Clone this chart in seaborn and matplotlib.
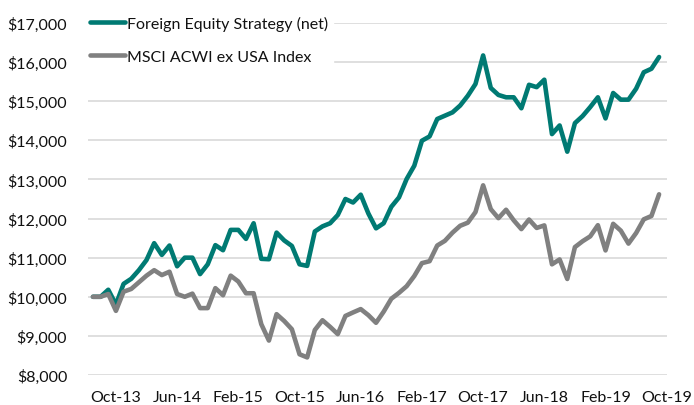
import numpy as np
import pandas as pd
import seaborn as sns
import matplotlib.pyplot as plt

# growth of $10,000, monthly
strategy = [10000, 10000, 10180, 9800, 10330, 10460, 10680, 10940, 11370, 11070,
            11310, 10780, 11000, 11000, 10580, 10830, 11320, 11190, 11710, 11710,
            11480, 11880, 10970, 10960, 11640, 11440, 11300, 10830, 10790, 11670,
            11800, 11880, 12090, 12500, 12410, 12610, 12130, 11750, 11880, 12300,
            12540, 13010, 13350, 13990, 14100, 14545, 14630, 14715, 14890, 15140,
            15440, 16170, 15340, 15160, 15100, 15100, 14820, 15420, 15360, 15550,
            14160, 14380, 13710, 14440, 14620, 14850, 15100, 14560, 15210, 15040,
            15040, 15320, 15740, 15830, 16130]
index = [10000, 10000, 10070, 9640, 10130, 10200, 10370, 10540, 10680, 10555,
         10640, 10070, 10000, 10080, 9710, 9710, 10220, 10040, 10540, 10390,
         10090, 10090, 9300, 8880, 9555, 9380, 9170, 8530, 8450, 9150,
         9400, 9230, 9045, 9510, 9600, 9685, 9530, 9335, 9620, 9950,
         10100, 10270, 10530, 10860, 10910, 11310, 11430, 11640, 11815, 11895,
         12165, 12850, 12240, 12010, 12225, 11955, 11730, 11975, 11760, 11825,
         10830, 10955, 10455, 11270, 11420, 11545, 11830, 11185, 11865, 11690,
         11360, 11630, 11980, 12065, 12620]
tick_labels = ["Oct-13", "Jun-14", "Feb-15", "Oct-15", "Jun-16",
               "Feb-17", "Oct-17", "Jun-18", "Feb-19", "Oct-19"]
series_names = ["Foreign Equity Strategy (net)", "MSCI ACWI ex USA Index"]
colors = ["#007A73", "#808080"]

df = pd.DataFrame({
    "month": np.tile(np.arange(len(strategy)), 2),
    "value": strategy + index,
    "series": np.repeat(series_names, len(strategy)),
})

sns.set_theme(style="whitegrid")
plt.rcParams["font.family"] = ["Lato", "DejaVu Sans"]

fig = plt.figure(figsize=(6.94, 4.06), dpi=100)
ax = fig.add_axes([0.1268, 0.0739, 0.835, 0.867])

sns.lineplot(data=df, x="month", y="value", hue="series",
             palette=colors, linewidth=3.3, ax=ax)

ax.set_xlim(-0.65, 75.1)
ax.set_ylim(8000, 17000)
ax.set_yticks(np.arange(8000, 17001, 1000))
ax.yaxis.set_major_formatter(plt.FuncFormatter(lambda v, p: f"${v:,.0f}"))
ax.set_xticks(np.arange(3, 76, 8))
ax.set_xticklabels(tick_labels)
ax.grid(axis="x", visible=False)
ax.grid(axis="y", color="#D9D9D9", linewidth=1.2)
for s in ax.spines.values():
    s.set_visible(False)
ax.tick_params(axis="both", length=0, labelsize=11.5, colors="#111111")
ax.tick_params(axis="y", pad=15)
ax.tick_params(axis="x", pad=11)
ax.set_xlabel("")
ax.set_ylabel("")

leg = ax.legend(loc="upper left", bbox_to_anchor=(-0.005, 1.035), frameon=True,
                fontsize=11.5, handlelength=2.2, handletextpad=0.1,
                labelspacing=1.2, borderaxespad=0, borderpad=0.3)
leg.get_frame().set_facecolor("white")
leg.get_frame().set_edgecolor("white")
leg.get_frame().set_alpha(1)
for t in leg.get_texts():
    t.set_color("#111111")
for h in leg.get_lines():
    h.set_linewidth(3.3)

fig.savefig("out.png", dpi=100)
